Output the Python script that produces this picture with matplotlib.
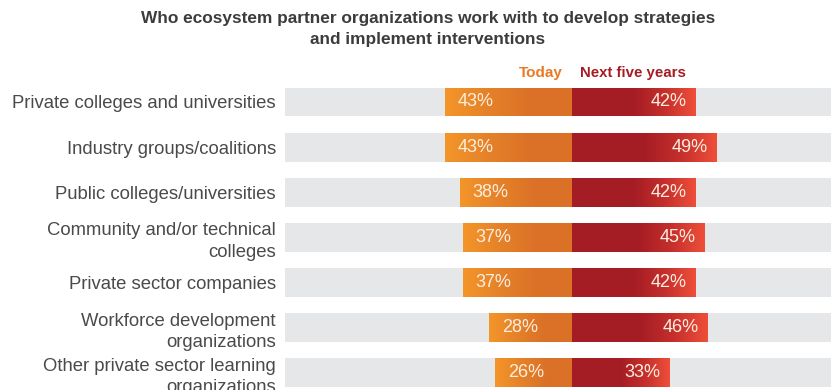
import numpy as np
import matplotlib.pyplot as plt
from matplotlib.colors import LinearSegmentedColormap

categories = [
    "Private colleges and universities",
    "Industry groups/coalitions",
    "Public colleges/universities",
    "Community and/or technical\ncolleges",
    "Private sector companies",
    "Workforce development\norganizations",
    "Other private sector learning\norganizations",
]
today = [43, 43, 38, 37, 37, 28, 26]
next_five = [42, 49, 42, 45, 42, 46, 33]

plt.rcParams['font.family'] = ['Liberation Sans', 'DejaVu Sans']

GREY = '#e6e7e8'
TEXT = '#4a4a4a'
orange_cmap = LinearSegmentedColormap.from_list('today', ['#f4952a', '#e58229', '#db7127', '#db7127'])
red_cmap = LinearSegmentedColormap.from_list(
    'next', [(0, '#a51d24'), (0.5, '#a51d24'), (0.75, '#c52f2c'), (1, '#ee4f39')])

fig = plt.figure(figsize=(8.31, 3.90), dpi=100)
ax = fig.add_axes([285 / 831, 0, 546 / 831, 310 / 390])

y = np.arange(len(categories))
h = 0.64

# grey track behind every row
ax.barh(y, 200, left=-99, height=h, color=GREY, zorder=1)

bars_today = ax.barh(y, [-v for v in today], height=h, color='none', zorder=2)
bars_next = ax.barh(y, next_five, height=h, color='none', zorder=2)

grad = np.linspace(0, 1, 256).reshape(1, -1)
for bar, v in zip(bars_today, today):
    yc = bar.get_y()
    im = ax.imshow(grad, cmap=orange_cmap, aspect='auto', zorder=2,
                   extent=(-v, 0, yc + h, yc), interpolation='bicubic')
    im.set_clip_path(bar)
for bar, v in zip(bars_next, next_five):
    yc = bar.get_y()
    im = ax.imshow(grad, cmap=red_cmap, aspect='auto', zorder=2,
                   extent=(0, v, yc + h, yc), interpolation='bicubic')
    im.set_clip_path(bar)

for i, (a, b) in enumerate(zip(today, next_five)):
    ax.annotate(f"{a}%", (-a, i), xytext=(9, 0), textcoords='offset points',
                ha='left', va='center', color='#fdeee0', fontsize=13, zorder=3)
    ax.annotate(f"{b}%", (b, i), xytext=(-6.5, 0), textcoords='offset points',
                ha='right', va='center', color='#fdeee0', fontsize=13, zorder=3)

ax.set_xlim(-97.3, 87.8)
ax.set_ylim(6.38, -0.487)
ax.set_yticks(y)
ax.set_yticklabels(categories, fontsize=13.3, color=TEXT, linespacing=1.35)
ax.tick_params(axis='y', length=0, pad=6.5)
ax.set_xticks([])
for s in ax.spines.values():
    s.set_visible(False)

fig.text(428 / 831, 1 - 29 / 390, "Who ecosystem partner organizations work with to develop strategies\nand implement interventions",
         ha='center', va='center', fontsize=12.4, fontweight='bold', color='#3c3c3c',
         linespacing=1.5)
fig.text(563 / 831, 1 - 73 / 390, "Today", ha='right', va='center', fontsize=11,
         fontweight='bold', color='#e87a24')
fig.text(580 / 831, 1 - 73 / 390, "Next five years", ha='left', va='center', fontsize=10.8,
         fontweight='bold', color='#a51d24')

fig.savefig('out.png', dpi=100)
